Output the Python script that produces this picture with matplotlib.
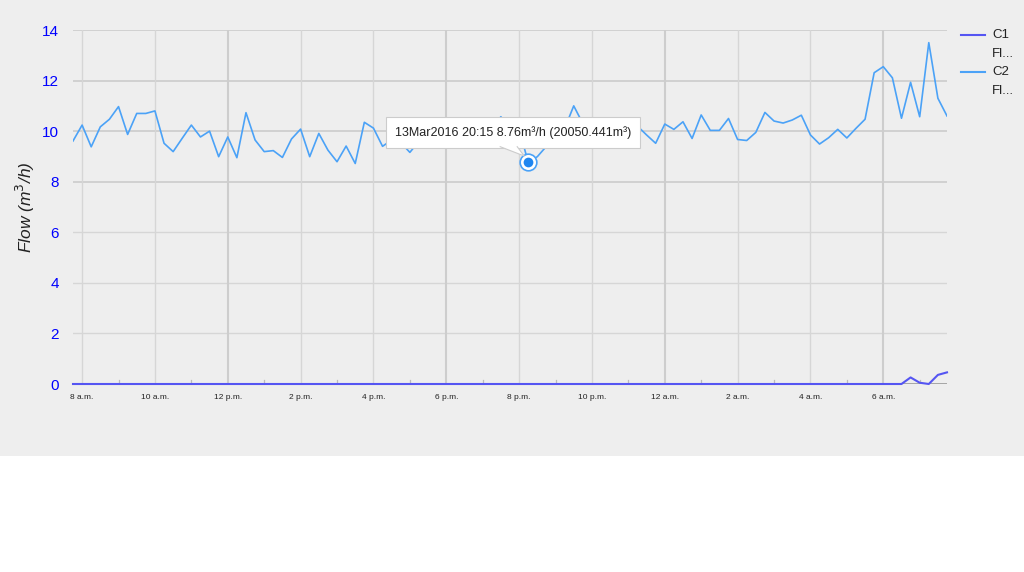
import numpy as np
import pandas as pd
import matplotlib
matplotlib.use("Agg")
import matplotlib.pyplot as plt
import matplotlib.transforms as mtransforms
import matplotlib.dates as mdates
from matplotlib.patches import Rectangle, Polygon

plt.rcParams['font.family'] = ['Liberation Sans', 'DejaVu Sans']

# Data: 15-minute readings, 13 Mar 2016 07:45 -> 14 Mar 2016 07:45
times = pd.date_range("2016-03-13 07:45", periods=97, freq="15min")

c2_flow = [
    9.61, 10.24, 9.38, 10.17, 10.47, 10.97, 9.87, 10.70, 10.70, 10.80,
    9.52, 9.19, 9.72, 10.24, 9.77, 10.00, 8.99, 9.77, 8.95, 10.73,
    9.65, 9.19, 9.23, 8.96, 9.69, 10.08, 8.99, 9.91, 9.25, 8.79,
    9.41, 8.72, 10.35, 10.12, 9.40, 9.65, 9.55, 9.16, 9.60, 9.90,
    10.10, 9.80, 10.20, 9.90, 10.00, 9.70, 10.10, 10.57, 10.00, 10.10,
    8.76, 8.99, 9.40, 9.80, 10.10, 11.00, 10.30, 10.00, 10.20, 9.90,
    10.10, 10.00, 10.20, 9.85, 9.52, 10.28, 10.07, 10.37, 9.71, 10.64,
    10.03, 10.03, 10.50, 9.67, 9.63, 9.95, 10.74, 10.40, 10.32, 10.44,
    10.63, 9.85, 9.49, 9.74, 10.07, 9.73, 10.11, 10.47, 12.31, 12.55,
    12.11, 10.51, 11.93, 10.57, 13.50, 11.30, 10.60,
]
c1_flow = [0.0] * 92 + [0.26, 0.05, 0.0, 0.36, 0.46]

series_names = ["C1", "C2"]
legend_sub = ["Fl...", "Fl..."]

tick_times = pd.date_range("2016-03-13 08:00", periods=12, freq="2h")
tick_labels = ['8 a.m.', '10 a.m.', '12 p.m.', '2 p.m.', '4 p.m.', '6 p.m.',
               '8 p.m.', '10 p.m.', '12 a.m.', '2 a.m.', '4 a.m.', '6 a.m.']
minor_times = pd.date_range("2016-03-13 09:00", periods=12, freq="2h")
y_ticks = [0, 2, 4, 6, 8, 10, 12, 14]

hover_idx = 50
hover_text = "13Mar2016 20:15 8.76m³/h (20050.441m³)"

# Colours
bg = '#eeeeee'
c1_color = '#5555f2'
c2_color = '#4ba2f7'

fig = plt.figure(figsize=(10.24, 5.72), dpi=100, facecolor='white')
fig.patches.append(Rectangle((0, 1 - 456 / 572), 1, 456 / 572, transform=fig.transFigure,
                             facecolor=bg, edgecolor='none', zorder=-10))
ax = fig.add_axes([73 / 1024, 1 - 384 / 572, (947 - 73) / 1024, 354 / 572])
ax.set_facecolor(bg)
for s in ax.spines.values():
    s.set_visible(False)

# Gridlines
for y in y_ticks[1:]:
    ax.axhline(y, color='#cccccc' if y >= 8 else '#d6d6d6', lw=1.2 if y >= 8 else 1.0, zorder=0)
for t, lab in zip(tick_times, tick_labels):
    heavy = lab in ('12 p.m.', '6 p.m.', '12 a.m.', '6 a.m.')
    ax.axvline(t, color='#cdcdcd' if heavy else '#d6d6d6', lw=1.5 if heavy else 1.0, zorder=0)
for t in minor_times:
    ax.plot([t, t], [0, 0.16], color='#bbbbbb', lw=0.9, zorder=1)
ax.axhline(0, color='#999999', lw=1.2, zorder=1)

ax.plot(times, c2_flow, color=c2_color, lw=1.2, zorder=3)
ax.plot(times, c1_flow, color=c1_color, lw=1.5, zorder=4, clip_on=False)

ax.set_xlim(times[0], times[-1])
ax.set_ylim(0, 14)
ax.set_xticks(tick_times)
ax.set_xticklabels(tick_labels, fontsize=6, color='#222222')
ax.set_yticks(y_ticks)
ax.set_yticklabels([str(v) for v in y_ticks], fontsize=11, color='#0000ff')
ax.tick_params(axis='both', length=0)
ax.tick_params(axis='x', pad=7)
ax.tick_params(axis='y', pad=10)
ax.set_ylabel("Flow (m$^3$/h)", fontsize=12.5, style='italic', color='#222222', labelpad=4)

# Legend (drawn by hand to mimic the two-line labels)
for k, (name, sub, col) in enumerate(zip(series_names, legend_sub, [c1_color, c2_color])):
    y0 = 1 - (35 + 37 * k) / 572
    fig.add_artist(plt.Line2D([961 / 1024, 985 / 1024], [y0, y0], color=col, lw=1.5,
                              transform=fig.transFigure))
    fig.text(992 / 1024, y0, name, fontsize=9.5, color='#222222', va='center')
    fig.text(992 / 1024, y0 - 19 / 572, sub, fontsize=9.5, color='#222222', va='center')

# Hover point and tooltip
hx, hy = times[hover_idx], c2_flow[hover_idx]
ax.plot([hx], [hy], marker='o', ms=12, mfc='white', mec='#4ba2f7', mew=1.2, zorder=6)
ax.plot([hx], [hy], marker='o', ms=7, mfc='#1f86f0', mec='none', zorder=7)
ax.annotate(hover_text, xy=(hx, hy), xytext=(-11, 21.6), textcoords='offset points',
            ha='center', va='center', fontsize=9, color='#222222', zorder=8,
            bbox=dict(boxstyle='square,pad=0.7', fc='white', ec='#cccccc', lw=0.8))

# tooltip pointer, in inches relative to the hovered point
ptr = mtransforms.ScaledTranslation(mdates.date2num(hx), hy, ax.transData)
ptr_tr = fig.dpi_scale_trans + ptr
base_l, base_r, tip = (-0.28, 0.158), (-0.11, 0.158), (-0.04, 0.065)
ax.add_patch(Polygon([base_l, tip, base_r], closed=True, fc='white', ec='none',
                     transform=ptr_tr, zorder=9, clip_on=False))
ax.add_line(plt.Line2D([base_l[0], tip[0], base_r[0]], [base_l[1], tip[1], base_r[1]],
                       color='#cccccc', lw=0.8, transform=ptr_tr, zorder=9, clip_on=False))

fig.savefig("out.png", dpi=100, facecolor=fig.get_facecolor())
